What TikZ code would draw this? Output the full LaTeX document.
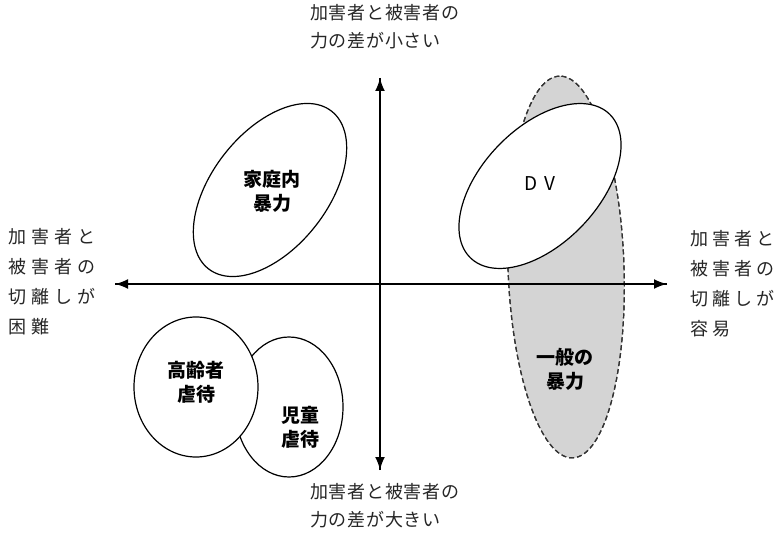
\documentclass[tikz,border=0pt]{standalone}
\usepackage{fontspec}
\setmainfont{Noto Sans CJK JP}
\newfontfamily\jp{Noto Sans CJK JP}
\usetikzlibrary{arrows.meta}
\tikzset{
  axis/.style={line width=2pt,-{Latex[length=13pt,width=10pt]}},
  blob/.style={draw=black,line width=1.2pt,fill=white},
  gblob/.style={draw=black!80,line width=1.2pt,dashed,dash pattern=on 5pt off 3pt,fill=black!17},
  lab/.style={font=\jp\bfseries\fontsize{19}{24}\selectfont,align=center,inner sep=0pt},
  sidel/.style={font=\jp\fontsize{18}{30}\selectfont\addfontfeatures{LetterSpace=28},align=left,inner sep=0pt,anchor=north west,text=black!85},
  topl/.style={font=\jp\fontsize{18}{28}\selectfont\addfontfeatures{LetterSpace=4},align=left,inner sep=0pt,anchor=north west,text=black!85}
}
\begin{document}
\begin{tikzpicture}[x=1pt,y=1pt]
\useasboundingbox (0,0) rectangle (782,544);
% general violence (dashed, behind)
\fill[gblob] (566,277) ellipse[x radius=191,y radius=58,rotate=92];
\draw[gblob,fill=none] (566,277) ellipse[x radius=191,y radius=58,rotate=92];
% axes
\coordinate (L) at (115,260);
\coordinate (R) at (667,260);
\coordinate (T) at (380,466);
\coordinate (B) at (380,74);
\draw[axis] (R) -- (L);
\draw[axis] (L) -- (R);
\draw[axis] (B) -- (T);
\draw[axis] (T) -- (B);
% ellipses
\draw[blob] (270,354) ellipse[x radius=100,y radius=58,rotate=52];
\draw[blob] (540,358) ellipse[x radius=100,y radius=58,rotate=46];
\draw[blob] (289,137) ellipse[x radius=54,y radius=70];
\draw[blob] (196,157) ellipse[x radius=62,y radius=70];
% labels
\node[lab] (kateinai) at (272,353) {家庭内\\暴力};
\node[lab,font=\jp\fontsize{19}{24}\selectfont\addfontfeatures{LetterSpace=40}] (dv) at (540,360) {DV};
\node[lab] (ippan) at (565,175) {一般の\\暴力};
\node[lab] (koreisha) at (196,162) {高齢者\\虐待};
\node[lab] (jido) at (300,117) {児童\\虐待};
% axis labels
\node[topl] (top) at (310,540) {加害者と被害者の\\力の差が小さい};
\node[topl] (bottom) at (310,61) {加害者と被害者の\\力の差が大きい};
\node[sidel] (left) at (8,316) {加害者と\\被害者の\\切離しが\\困難};
\node[sidel,font=\jp\fontsize{18}{30}\selectfont\addfontfeatures{LetterSpace=22}] (right) at (690,314) {加害者と\\被害者の\\切離しが\\容易};
\end{tikzpicture}
\end{document}
